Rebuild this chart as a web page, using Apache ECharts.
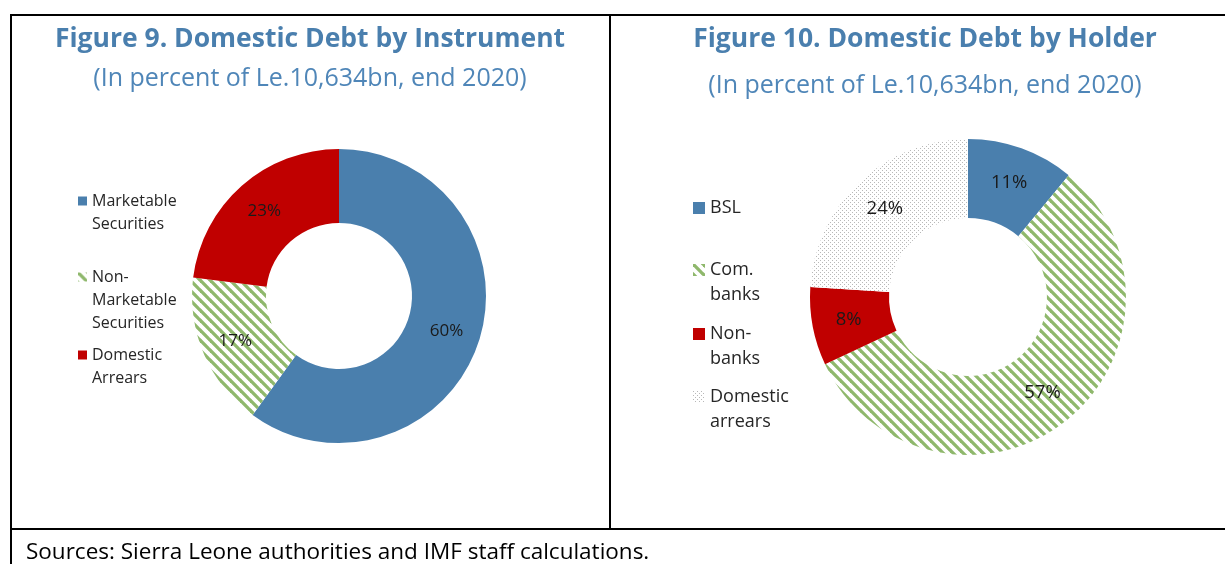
<!DOCTYPE html>
<html>
<head>
<meta charset="utf-8">
<script src="https://cdn.jsdelivr.net/npm/echarts@6/dist/echarts.min.js"></script>
<style>
html,body{margin:0;padding:0;background:#fff;}
#chart{width:1225px;height:564px;}
</style>
</head>
<body>
<div id="chart"></div>
<script>
// ---- Data ----
const instrumentNames = ['Marketable\nSecurities', 'Non-\nMarketable\nSecurities', 'Domestic\nArrears'];
const instrumentValues = [60, 17, 23];
const holderNames = ['BSL', 'Com.\nbanks', 'Non-\nbanks', 'Domestic\narrears'];
const holderValues = [11, 57, 8, 24];
const title9 = 'Figure 9. Domestic Debt by Instrument';
const title10 = 'Figure 10. Domestic Debt by Holder';
const subtitle = '(In percent of Le.10,634bn, end 2020)';
const sourceNote = 'Sources: Sierra Leone authorities and IMF staff calculations.';

// ---- Patterns ----
function stripePattern() {
  const s = 10;
  const c = document.createElement('canvas');
  c.width = s; c.height = s;
  const g = c.getContext('2d');
  g.fillStyle = '#ffffff'; g.fillRect(0, 0, s, s);
  g.strokeStyle = '#8fb86c'; g.lineWidth = 3.3;
  for (const k of [-s, 0, s]) {
    g.beginPath(); g.moveTo(k - 1, -1); g.lineTo(k + s + 1, s + 1); g.stroke();
  }
  return {image: c, repeat: 'repeat'};
}
function dotPattern() {
  const s = 4;
  const c = document.createElement('canvas');
  c.width = s; c.height = s;
  const g = c.getContext('2d');
  g.fillStyle = '#ffffff'; g.fillRect(0, 0, s, s);
  g.fillStyle = '#b8b8b8';
  g.fillRect(0, 0, 1, 1); g.fillRect(2, 2, 1, 1);
  return {image: c, repeat: 'repeat'};
}
const BLUE = '#4a7fad', RED = '#c00000';
const stripes = stripePattern(), dots = dotPattern();
const instrumentColors = [BLUE, stripes, RED];
const holderColors = [BLUE, stripes, RED, dots];

const FONT = '"Open Sans", "Noto Sans", sans-serif';

// legend item whose icon lines up with the first text line (blank lines prepended)
function legendFor(name, x, firstLineY, lh, fontSize, iconSize) {
  const n = name.split('\n').length;
  return {
    data: [name], left: x, top: firstLineY - (2 * n - 1) * lh / 2,
    orient: 'vertical', padding: 0, selectedMode: false,
    icon: 'rect', itemWidth: iconSize, itemHeight: iconSize,
    formatter: nm => '\n'.repeat(n - 1) + nm,
    textStyle: {fontFamily: FONT, fontSize: fontSize, color: '#262626', lineHeight: lh}
  };
}

const chart = echarts.init(document.getElementById('chart'), null, {renderer: 'canvas'});
const option = {
  animation: false,
  legend: [
    legendFor(instrumentNames[0], 78, 201, 23, 16, 9),
    legendFor(instrumentNames[1], 78, 277, 23, 16, 9),
    legendFor(instrumentNames[2], 78, 355, 23, 16, 9),
    legendFor(holderNames[0], 693, 208, 25, 18, 12),
    legendFor(holderNames[1], 693, 270, 25, 18, 12),
    legendFor(holderNames[2], 693, 334, 25, 18, 12),
    legendFor(holderNames[3], 693, 397, 25, 18, 12)
  ],
  series: [
    {
      type: 'pie', center: [339, 296], radius: [73, 147], startAngle: 90,
      avoidLabelOverlap: false, emphasis: {scale: false},
      label: {show: true, position: 'inside', formatter: '{c}%', color: '#1a1a1a', fontSize: 17, fontFamily: FONT},
      labelLine: {show: false},
      data: instrumentNames.map((n, i) => ({name: n, value: instrumentValues[i], itemStyle: {color: instrumentColors[i]}}))
    },
    {
      type: 'pie', center: [968, 297], radius: [79, 158], startAngle: 90,
      avoidLabelOverlap: false, emphasis: {scale: false},
      label: {show: true, position: 'inside', formatter: '{c}%', color: '#1a1a1a', fontSize: 18.5, fontFamily: FONT},
      labelLine: {show: false},
      data: holderNames.map((n, i) => ({name: n, value: holderValues[i], itemStyle: {color: holderColors[i]}}))
    }
  ],
  graphic: [
    {type: 'line', shape: {x1: 10, y1: 15, x2: 1225, y2: 15}, style: {stroke: '#000', lineWidth: 2}},
    {type: 'line', shape: {x1: 11, y1: 14, x2: 11, y2: 564}, style: {stroke: '#000', lineWidth: 2}},
    {type: 'line', shape: {x1: 610, y1: 15, x2: 610, y2: 529}, style: {stroke: '#000', lineWidth: 2}},
    {type: 'line', shape: {x1: 10, y1: 529, x2: 1225, y2: 529}, style: {stroke: '#000', lineWidth: 2}},
    {type: 'text', x: 310, y: 39, style: {text: title9, fill: '#4a7fae', font: 'bold 26.5px ' + FONT, textAlign: 'center', textVerticalAlign: 'middle'}},
    {type: 'text', x: 310, y: 79, style: {text: subtitle, fill: '#4f86b8', font: '25px ' + FONT, textAlign: 'center', textVerticalAlign: 'middle'}},
    {type: 'text', x: 925, y: 39, style: {text: title10, fill: '#4a7fae', font: 'bold 26.5px ' + FONT, textAlign: 'center', textVerticalAlign: 'middle'}},
    {type: 'text', x: 925, y: 86, style: {text: subtitle, fill: '#4f86b8', font: '25px ' + FONT, textAlign: 'center', textVerticalAlign: 'middle'}},
    {type: 'text', x: 26, y: 553, style: {text: sourceNote, fill: '#000', font: '22.5px ' + FONT, textAlign: 'left', textVerticalAlign: 'middle'}}
  ]
};
chart.setOption(option);
</script>
</body>
</html>
